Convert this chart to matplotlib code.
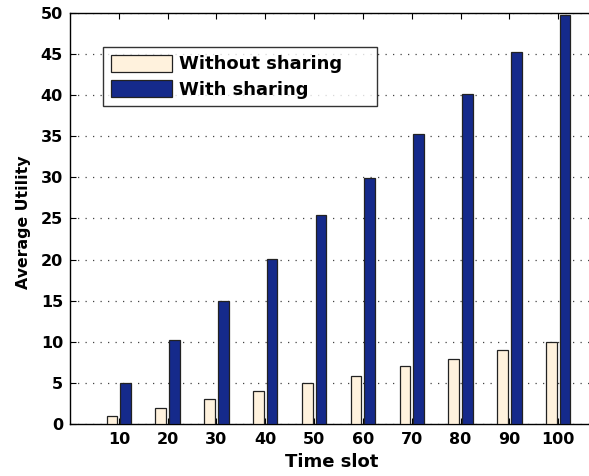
import matplotlib
matplotlib.use("Agg")
import matplotlib.pyplot as plt
import numpy as np

time_slots = [10, 20, 30, 40, 50, 60, 70, 80, 90, 100]
without_sharing = [1.0, 1.9, 3.0, 4.0, 5.0, 5.9, 7.0, 7.9, 9.0, 10.0]
with_sharing = [5.0, 10.2, 15.0, 20.1, 25.4, 29.9, 35.3, 40.1, 45.2, 49.8]
y_ticks = [0, 5, 10, 15, 20, 25, 30, 35, 40, 45, 50]

plt.rcParams['font.family'] = ['DejaVu Sans']
plt.rcParams['font.weight'] = 'bold'
plt.rcParams['savefig.bbox'] = None

fig = plt.figure(figsize=(5.89, 4.76), dpi=100)
ax = fig.add_axes([70/589, 52/476, 537/589, 411/476])

x = np.array(time_slots, dtype=float)
bw = 2.2
off = 1.4
ax.bar(x - off, without_sharing, width=bw, color='#FFF2DD', edgecolor='#222222',
       linewidth=0.9, label='Without sharing', zorder=3)
ax.bar(x + off, with_sharing, width=bw, color='#152A8B', edgecolor='#222222',
       linewidth=0.9, label='With sharing', zorder=3)

ax.set_xlim(0, 110)
ax.set_ylim(0, 50)
ax.set_xticks(time_slots)
ax.set_yticks(y_ticks)
ax.tick_params(axis='both', direction='in', length=4, width=0.8, labelsize=11.5,
               top=True, right=False)
ax.tick_params(axis='x', pad=6)
ax.tick_params(axis='y', pad=5)
for lab in ax.get_xticklabels() + ax.get_yticklabels():
    lab.set_fontweight('bold')

ax.yaxis.grid(True, linestyle=(0, (1, 5)), color='#444444', linewidth=0.9, zorder=0)
ax.set_axisbelow(True)
for s in ax.spines.values():
    s.set_linewidth(1.0)
ax.spines['right'].set_visible(False)

ax.set_xlabel('Time slot', fontsize=13, fontweight='bold', va='top')
ax.xaxis.set_label_coords(0.488, -0.0706)
ax.set_ylabel('Average Utility', fontsize=11.3, fontweight='bold')
ax.yaxis.set_label_coords(-0.073, 0.4915)

leg = ax.legend(loc='upper left',
                bbox_to_anchor=(33/537, 1 - 34/411 - 0.01, 274/537, 0.01),
                mode='expand',
                prop={'weight': 'bold', 'size': 13}, frameon=True, fancybox=False,
                edgecolor='black', handlelength=3.4, handleheight=1.1,
                borderpad=0.42, labelspacing=0.36, handletextpad=0.4, borderaxespad=0)
leg.get_frame().set_linewidth(1.0)

fig.savefig('out.png', dpi=100, bbox_inches=None, facecolor='white')
